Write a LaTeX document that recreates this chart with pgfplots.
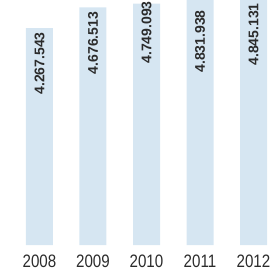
\documentclass[border=0pt]{standalone}
\usepackage{pgfplots}
\pgfplotsset{compat=1.18}
\usepackage{fontspec}
\setmainfont{Liberation Sans}
\definecolor{barblue}{HTML}{D6E6F2}
\definecolor{txt}{HTML}{2B2B2B}
\tikzset{vlab/.style={anchor=north, font=\bfseries\fontsize{14}{14}\selectfont, text=txt, inner sep=0pt}}
\begin{document}
\begin{tikzpicture}
\begin{axis}[
  at={(0pt,34pt)}, anchor=south west,
  scale only axis, width=270pt, height=245pt,
  xmin=-0.738, xmax=4.308, ymin=0, ymax=4820000,
  axis lines=none, clip mode=individual,
  ybar, bar width=27pt,
  xtick=\empty, ytick=\empty,
]
\addplot[fill=barblue, draw=none] coordinates {(0,4267543) (1,4676513) (2,4749093) (3,4831938) (4,4845131)};
\node[vlab] at (axis cs:0,4190000) {\rotatebox{90}{4.267.543}};
\node[vlab] at (axis cs:1,4590000) {\rotatebox{90}{4.676.513}};
\node[vlab] at (axis cs:2,4800000) {\rotatebox{90}{4.749.093}};
\node[vlab] at (axis cs:3,4620000) {\rotatebox{90}{4.831.938}};
\node[vlab] at (axis cs:4,4760000) {\rotatebox{90}{4.845.131}};
\end{axis}
\foreach \i/\yr in {0/2008,1/2009,2/2010,3/2011,4/2012}{
  \node[text=txt, font=\fontsize{18}{18}\selectfont, anchor=base, inner sep=0pt] at ({39.5pt+53.5pt*\i},11pt) {\scalebox{0.84}[1]{\yr}};
}
\pgfresetboundingbox
\useasboundingbox (0pt,0pt) rectangle (270pt,279pt);
\end{tikzpicture}
\end{document}
